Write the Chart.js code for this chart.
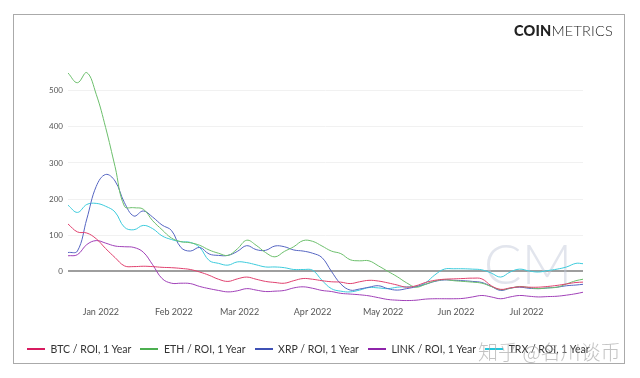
<!DOCTYPE html>
<html>
<head>
<meta charset="utf-8">
<script src="https://cdn.jsdelivr.net/npm/chart.js@4.4.0/dist/chart.umd.min.js"></script>
<style>
  body { margin: 0; background: #fff; }
  #wrap { position: relative; width: 640px; height: 378px; overflow: hidden; }
  #frame { position: absolute; left: 13px; top: 14px; width: 612px; height: 350px; border: 1px solid #aaa; box-sizing: border-box; }
  #logo { position: absolute; left: 514px; top: 22px; font-family: Lato, sans-serif; font-size: 14.5px; color: #222; letter-spacing: 0.2px; }
  #logo b { font-weight: 900; }
  #logo span { font-weight: 300; }
  #legend { position: absolute; left: 27px; top: 342px; display: flex; font-family: Lato, sans-serif; font-size: 10.5px; color: #333; line-height: 14px; }
  #legend .item { display: flex; align-items: center; margin-right: 9px; white-space: nowrap; }
  #legend .line { width: 18px; height: 2.5px; margin-right: 5.5px; }
  #mark { position: absolute; left: 478px; top: 337px; font-family: "Noto Sans CJK SC", sans-serif; font-size: 20px; font-weight: 300; color: rgba(170,170,170,0.7); }
  canvas { position: absolute; left: 0; top: 0; }
</style>
</head>
<body>
<div id="wrap">
  <canvas id="roiChart" width="640" height="378"></canvas>
  <div id="frame"></div>
  <div id="logo"><b>COIN</b><span>METRICS</span></div>
  <div id="legend"></div>
  <div id="mark">知乎 @名川谈币</div>
</div>
<script>
// days since 2021-12-18
const days = [0,4,8,12,16,20,24,28,32,36,40,44,48,52,56,60,64,68,72,76,80,84,88,92,96,100,104,108,112,116,120,124,128,132,136,140,144,148,152,156,160,164,168,172,176,180,184,188,192,196,200,204,208,212,216,219];

const btc = [131,109,106,90,63,38,15,13,14,13,11,10,8,5,-2,-11,-22,-28,-21,-16,-22,-28,-31,-33,-26,-20,-22,-26,-29,-30,-34,-29,-25,-27,-32,-38,-44,-40,-31,-25,-22,-21,-20,-19,-21,-40,-50,-46,-43,-44,-44,-42,-39,-35,-31,-30];
const eth = [549,522,550,490,398,290,180,176,172,140,115,92,82,79,72,59,50,44,62,86,72,52,40,55,68,85,83,70,56,49,32,29,29,15,0,-15,-32,-44,-36,-27,-23,-26,-28,-30,-33,-42,-51,-47,-42,-45,-48,-46,-44,-35,-26,-22];
const xrp = [52,56,145,235,268,250,190,153,167,150,128,113,66,56,66,48,44,44,55,71,60,58,70,68,59,56,50,38,0,-35,-52,-49,-44,-40,-48,-52,-48,-43,-36,-28,-24,-25,-26,-28,-31,-42,-53,-47,-44,-47,-48,-46,-44,-40,-38,-36];
const link = [43,46,74,85,78,70,68,66,53,18,-20,-33,-33,-34,-42,-48,-53,-57,-54,-48,-52,-56,-55,-53,-46,-43,-47,-53,-56,-61,-63,-65,-68,-73,-78,-80,-81,-80,-77,-76,-76,-76,-75,-71,-67,-71,-76,-71,-67,-69,-71,-70,-69,-66,-62,-58];
const trx = [183,163,185,188,180,164,122,115,127,118,98,88,82,80,66,30,22,17,26,24,18,12,12,10,5,5,3,-25,-48,-55,-57,-52,-45,-46,-48,-44,-43,-42,-32,-10,6,7,7,6,4,-5,-16,-2,6,1,-2,2,6,12,22,21];

const monthDays = [14,45,73,104,134,165,195];
const monthLabels = ["Jan 2022","Feb 2022","Mar 2022","Apr 2022","May 2022","Jun 2022","Jul 2022"];
const yTicks = [0,100,200,300,400,500];

function series(label, values, color, legendColor) {
  return {
    label: label,
    data: values.map((v, i) => ({ x: days[i], y: v })),
    borderColor: color,
    backgroundColor: legendColor,
    borderWidth: 1,
    pointRadius: 0,
    tension: 0.4,
    fill: false,
  };
}

const cmWatermark = {
  id: "cmWatermark",
  beforeDatasetsDraw(chart) {
    const { ctx } = chart;
    ctx.save();
    ctx.font = "300 56px Lato";
    ctx.fillStyle = "rgba(190,198,216,0.45)";
    ctx.textAlign = "center";
    ctx.textBaseline = "middle";
    ctx.fillText("CM", 528, 266);
    ctx.restore();
  },
};

const ctx = document.getElementById("roiChart").getContext("2d");
const chart = new Chart(ctx, {
  type: "line",
  data: {
    datasets: [
      series("BTC / ROI, 1 Year", btc, "#e0406e", "#d81b60"),
      series("ETH / ROI, 1 Year", eth, "#6cbf6c", "#4caf50"),
      series("XRP / ROI, 1 Year", xrp, "#5565c2", "#3f51b5"),
      series("LINK / ROI, 1 Year", link, "#a040b8", "#8e24aa"),
      series("TRX / ROI, 1 Year", trx, "#3ccbdc", "#26c6da"),
    ],
  },
  options: {
    responsive: false,
    animation: false,
    layout: { padding: { left: 17, right: 57, top: 69, bottom: 44 } },
    plugins: {
      tooltip: { enabled: false },
      legend: { display: false },
    },
    scales: {
      x: {
        type: "linear",
        min: 0,
        max: 219,
        grid: { display: false, drawTicks: false },
        border: { display: false },
        afterFit: (s) => { s.height = 32; },
        afterBuildTicks: (s) => { s.ticks = monthDays.map((v) => ({ value: v })); },
        ticks: {
          autoSkip: false,
          maxRotation: 0,
          padding: 5,
          color: "#555",
          font: { family: "Lato", size: 9 },
          callback: (v, i) => monthLabels[i],
        },
      },
      y: {
        min: -85,
        max: 560,
        border: { display: false },
        afterFit: (s) => { s.width = 51; },
        afterBuildTicks: (s) => { s.ticks = yTicks.map((v) => ({ value: v })); },
        grid: {
          drawTicks: false,
          color: (c) => (c.tick && c.tick.value === 0 ? "#9e9e9e" : "#f1f1f1"),
          lineWidth: (c) => (c.tick && c.tick.value === 0 ? 2 : 1),
        },
        ticks: {
          padding: 5,
          color: "#555",
          font: { family: "Lato", size: 8 },
        },
      },
    },
  },
  plugins: [cmWatermark],
});

// html legend built from the chart's datasets
const legendEl = document.getElementById("legend");
chart.data.datasets.forEach((ds) => {
  const item = document.createElement("div");
  item.className = "item";
  const line = document.createElement("span");
  line.className = "line";
  line.style.background = ds.backgroundColor;
  const text = document.createElement("span");
  text.textContent = ds.label;
  item.appendChild(line);
  item.appendChild(text);
  legendEl.appendChild(item);
});
</script>
</body>
</html>
